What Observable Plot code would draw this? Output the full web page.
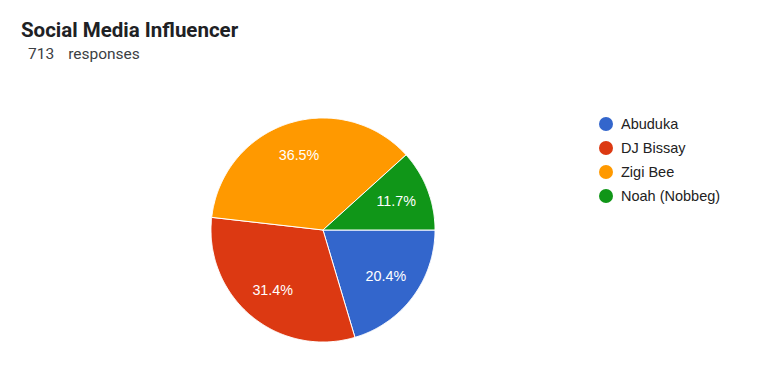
<!DOCTYPE html>
<html>
<head>
<meta charset="utf-8">
<script src="https://cdn.jsdelivr.net/npm/d3@7"></script>
<script src="https://cdn.jsdelivr.net/npm/@observablehq/plot@0.6"></script>
<style>
  html, body { margin: 0; padding: 0; background: #fff; }
  #wrap { position: relative; width: 781px; height: 369px; overflow: hidden; }
  #header { position: relative; width: 781px; height: 75px; }
  #title { position: absolute; left: 21px; top: 20px; font: bold 20.5px Roboto, sans-serif; line-height: 20px; color: #202124; white-space: nowrap; }
  #sub { position: absolute; left: 28px; top: 47px; font: 15.5px Roboto, sans-serif; line-height: 15px; color: #3c4043; white-space: nowrap; }
  #sub .gap { display: inline-block; width: 14px; }
  #legend { position: absolute; left: 599px; top: 112px; font: 14.5px "Liberation Sans", Arial, sans-serif; color: #222; }
  .row { display: flex; align-items: center; height: 24px; }
  .sw { width: 14px; height: 14px; border-radius: 50%; margin-right: 8px; }
  #chart svg { display: block; }
</style>
</head>
<body>
<div id="wrap">
  <div id="header">
    <div id="title"></div>
    <div id="sub"></div>
  </div>
  <div id="chart"></div>
  <div id="legend"></div>
</div>
<script>
const title = "Social Media Influencer";
const responses = 713;
const responsesLabel = "responses";
const categories = ["Abuduka", "DJ Bissay", "Zigi Bee", "Noah (Nobbeg)"];
const percents = [20.4, 31.4, 36.5, 11.7];
const colors = ["#3366cc", "#dc3912", "#ff9900", "#109618"];

document.getElementById("title").textContent = title;
const sub = document.getElementById("sub");
sub.append(String(responses));
const g = document.createElement("span"); g.className = "gap"; sub.append(g);
sub.append(responsesLabel);

const data = categories.map((name, i) => ({name, value: percents[i], color: colors[i]}));
const arcs = d3.pie().sort(null).value(d => d.value).startAngle(Math.PI / 2).endAngle(Math.PI / 2 + 2 * Math.PI)(data);

// polygon points for each slice, derived from pie angles
const polys = [];
for (const a of arcs) {
  const n = Math.max(2, Math.ceil((a.endAngle - a.startAngle) / 0.01));
  polys.push({name: a.data.name, x: 0, y: 0});
  for (let k = 0; k <= n; k++) {
    const t = a.startAngle + (a.endAngle - a.startAngle) * k / n;
    polys.push({name: a.data.name, x: Math.sin(t), y: Math.cos(t)});
  }
  polys.push({name: a.data.name, x: 0, y: 0});
}
const labelR = 0.7;
const labels = arcs.map(a => {
  const m = (a.startAngle + a.endAngle) / 2;
  return {label: a.data.value.toFixed(1) + "%", x: labelR * Math.sin(m), y: labelR * Math.cos(m)};
});

const cx = 322.5, cy = 154.5, r = 112;
const chart = Plot.plot({
  width: 781,
  height: 294,
  margin: 0,
  x: {type: "linear", domain: [-1, 1], range: [cx - r, cx + r], axis: null},
  y: {type: "linear", domain: [-1, 1], range: [cy + r, cy - r], axis: null},
  color: {domain: categories, range: colors},
  style: {background: "transparent"},
  marks: [
    Plot.line(polys, {x: "x", y: "y", z: "name", fill: "name", stroke: "#fff", strokeWidth: 1, curve: "linear"}),
    Plot.text(labels, {x: "x", y: "y", text: "label", fill: "#fff", fontSize: 14.3, fontFamily: "'Liberation Sans', Arial, sans-serif", textAnchor: "middle", lineAnchor: "middle"})
  ]
});
document.getElementById("chart").append(chart);

const legend = document.getElementById("legend");
categories.forEach((c, i) => {
  const row = document.createElement("div");
  row.className = "row";
  const sw = document.createElement("div");
  sw.className = "sw";
  sw.style.background = colors[i];
  const t = document.createElement("span");
  t.textContent = c;
  row.append(sw, t);
  legend.append(row);
});
</script>
</body>
</html>
